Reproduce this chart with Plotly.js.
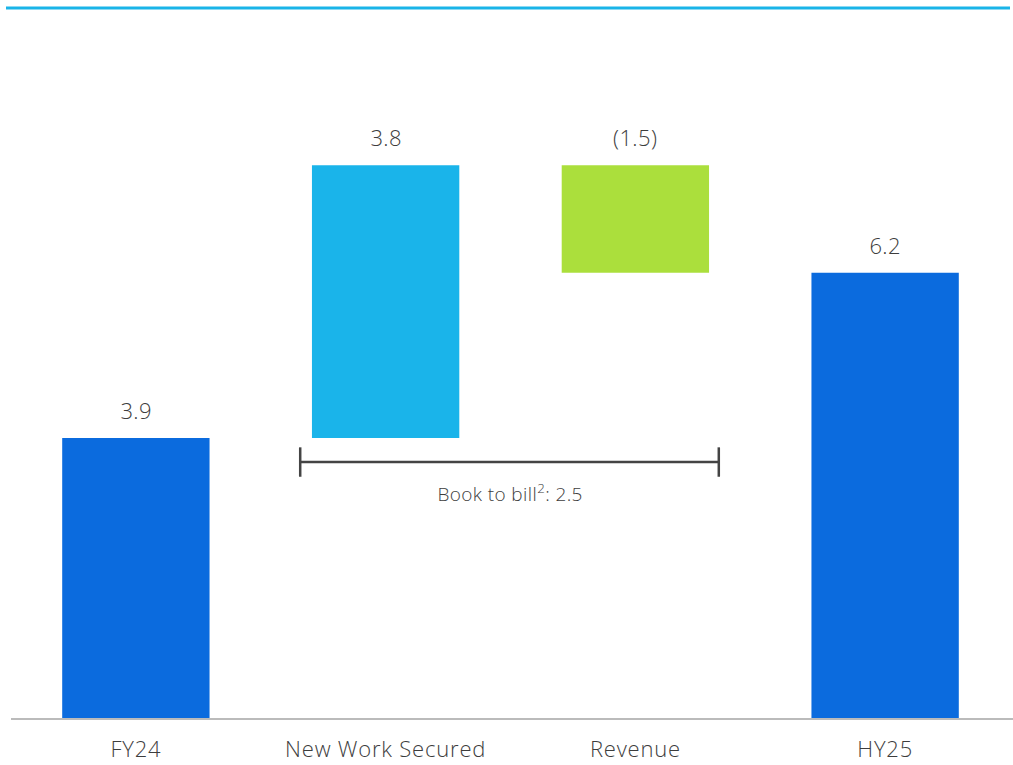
<!DOCTYPE html>
<html>
<head>
<meta charset="utf-8">
<script src="https://cdn.plot.ly/plotly-3.0.1.min.js"></script>
<style>
html,body{margin:0;padding:0;background:#fff;}
#chart{width:1013px;height:765px;}
#chart .xtick text{letter-spacing:0.8px;}
#chart .annotation-text{letter-spacing:0.4px;}
</style>
</head>
<body>
<div id="chart"></div>
<script>
const categories = ["FY24", "New Work Secured", "Revenue", "HY25"];
const measures = ["absolute", "relative", "relative", "total"];
const values = [3.9, 3.8, -1.5, 6.2];
const valueLabels = ["3.9", "3.8", "(1.5)", "6.2"];
const barColors = ["#0B6BDE", "#1AB4EA", "#ABDF3C", "#0B6BDE"];
const bookToBillLabel = "Book to bill<sup>2</sup>: 2.5";

// compute bar bases and heights from the waterfall values
const bases = [], heights = [];
let running = 0;
values.forEach((v, i) => {
  if (measures[i] === "absolute") { bases.push(0); heights.push(v); running = v; }
  else if (measures[i] === "total") { bases.push(0); heights.push(running); }
  else {
    const next = running + v;
    bases.push(Math.min(running, next));
    heights.push(Math.abs(v));
    running = next;
  }
});

const fontFam = "'Open Sans', 'Noto Sans', sans-serif";

const trace = {
  type: "bar",
  x: categories,
  y: heights,
  base: bases,
  width: 0.59,
  marker: {color: barColors},
  cliponaxis: false,
  hoverinfo: "skip"
};

const valueAnnotations = categories.map((c, i) => ({
  xref: "x", yref: "y", x: c, y: bases[i] + heights[i],
  text: valueLabels[i], showarrow: false, xanchor: "center", yanchor: "bottom",
  yshift: 11,
  font: {family: fontFam, size: 22, color: "#3d3d3d", weight: 300}
}));

const layout = {
  width: 1013, height: 765,
  margin: {l: 11, r: 0, t: 8, b: 47},
  paper_bgcolor: "#fff", plot_bgcolor: "#fff",
  showlegend: false,
  xaxis: {
    type: "category",
    range: [-0.5, 3.512],
    showgrid: false, zeroline: false,
    showline: true, linecolor: "#BBBBBB", linewidth: 2,
    ticks: "",
    ticklabelstandoff: 11,
    tickfont: {family: fontFam, size: 22, color: "#3d3d3d", weight: 300},
    fixedrange: true
  },
  yaxis: {
    range: [0, 9.889],
    visible: false,
    fixedrange: true
  },
  shapes: [
    {type: "line", xref: "paper", yref: "paper", x0: -5/1002, x1: 999/1002, y0: 1, y1: 1,
     line: {color: "#1AB4E8", width: 3}},
    {type: "line", xref: "x", yref: "y", x0: 0.658, x1: 2.334, y0: 3.565, y1: 3.565,
     line: {color: "#444", width: 2.5}},
    {type: "line", xref: "x", yref: "y", x0: 0.658, x1: 0.658, y0: 3.36, y1: 3.77,
     line: {color: "#444", width: 2.5}},
    {type: "line", xref: "x", yref: "y", x0: 2.334, x1: 2.334, y0: 3.36, y1: 3.77,
     line: {color: "#444", width: 2.5}}
  ],
  annotations: valueAnnotations.concat([
    {xref: "x", yref: "y", x: 1.497, y: 3.13, text: bookToBillLabel, showarrow: false,
     font: {family: fontFam, size: 19, color: "#3d3d3d", weight: 300}, xanchor: "center", yanchor: "middle"}
  ])
};

Plotly.newPlot("chart", [trace], layout, {displayModeBar: false, staticPlot: true});
</script>
</body>
</html>
